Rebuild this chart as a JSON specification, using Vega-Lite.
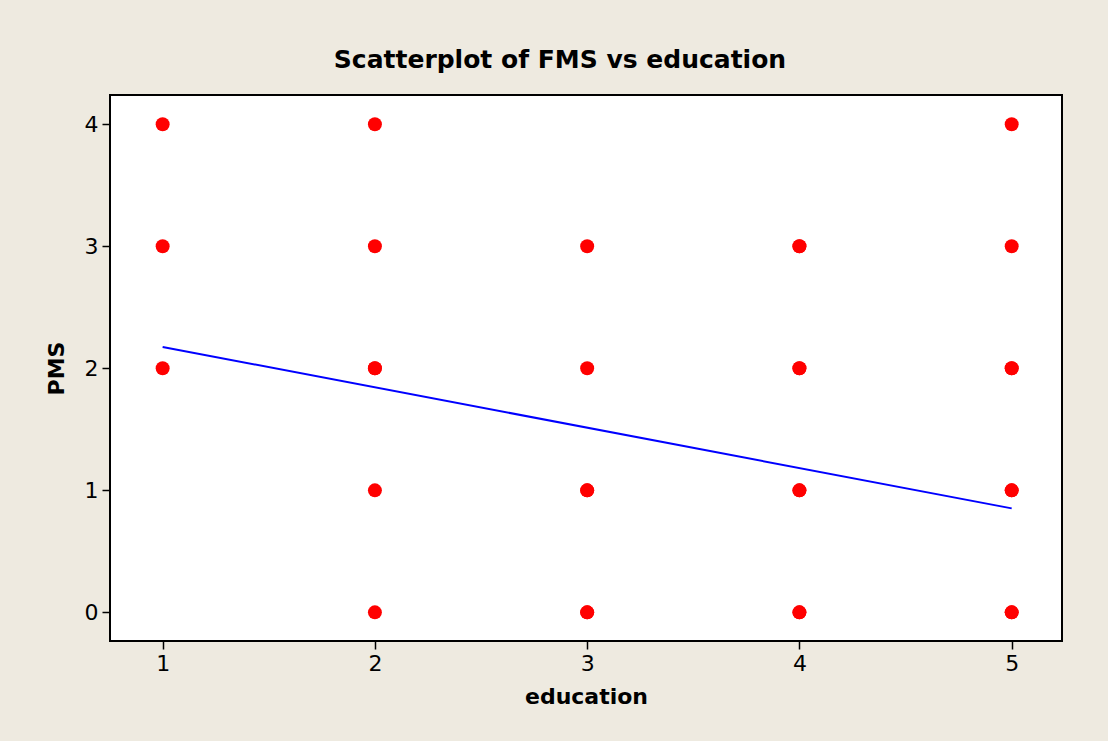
{
  "$schema": "https://vega.github.io/schema/vega-lite/v6.json",
  "autosize": "none",
  "width": 952,
  "height": 546,
  "padding": {"left": 110, "top": 95, "right": 46, "bottom": 100},
  "background": "#EEEAE0",
  "title": {
    "text": "Scatterplot of FMS vs education",
    "font": "DejaVu Sans",
    "fontSize": 25,
    "fontWeight": "bold",
    "color": "#000000",
    "anchor": "middle",
    "dx": -26,
    "offset": 22
  },
  "config": {
    "view": {"fill": "#FFFFFF", "stroke": "#000000", "strokeWidth": 2},
    "axis": {
      "domain": false,
      "grid": false,
      "ticks": true,
      "tickColor": "#000000",
      "tickSize": 8,
      "tickWidth": 1.5,
      "format": "d",
      "labelFont": "DejaVu Sans",
      "labelFontSize": 22,
      "labelColor": "#000000",
      "labelPadding": 4,
      "titleFont": "DejaVu Sans",
      "titleFontSize": 22,
      "titleFontWeight": "bold",
      "titleColor": "#000000"
    }
  },
  "datasets": {
    "obs": [
      {"education": 1, "PMS": 4},
      {"education": 1, "PMS": 3},
      {"education": 1, "PMS": 2},
      {"education": 2, "PMS": 4},
      {"education": 2, "PMS": 3},
      {"education": 2, "PMS": 2},
      {"education": 2, "PMS": 2},
      {"education": 2, "PMS": 1},
      {"education": 2, "PMS": 0},
      {"education": 3, "PMS": 3},
      {"education": 3, "PMS": 2},
      {"education": 3, "PMS": 1},
      {"education": 3, "PMS": 1},
      {"education": 3, "PMS": 0},
      {"education": 3, "PMS": 0},
      {"education": 4, "PMS": 3},
      {"education": 4, "PMS": 3},
      {"education": 4, "PMS": 2},
      {"education": 4, "PMS": 2},
      {"education": 4, "PMS": 1},
      {"education": 4, "PMS": 1},
      {"education": 4, "PMS": 0},
      {"education": 4, "PMS": 0},
      {"education": 5, "PMS": 4},
      {"education": 5, "PMS": 3},
      {"education": 5, "PMS": 2},
      {"education": 5, "PMS": 2},
      {"education": 5, "PMS": 1},
      {"education": 5, "PMS": 1},
      {"education": 5, "PMS": 0},
      {"education": 5, "PMS": 0}
    ],
    "fit": [
      {"education": 1, "PMS": 2.175},
      {"education": 5, "PMS": 0.852}
    ]
  },
  "layer": [
    {
      "data": {"name": "obs"},
      "mark": {"type": "circle", "color": "#FF0000", "opacity": 1, "size": 195},
      "encoding": {
        "x": {
          "field": "education",
          "type": "quantitative",
          "scale": {"domain": [0.752, 5.237], "nice": false, "zero": false},
          "axis": {"values": [1, 2, 3, 4, 5], "title": "education", "titlePadding": 12}
        },
        "y": {
          "field": "PMS",
          "type": "quantitative",
          "scale": {"domain": [-0.235, 4.24], "nice": false, "zero": false},
          "axis": {"values": [0, 1, 2, 3, 4], "title": "PMS", "titlePadding": 16}
        }
      }
    },
    {
      "data": {"name": "fit"},
      "mark": {"type": "line", "color": "#0000FF", "strokeWidth": 2},
      "encoding": {
        "x": {"field": "education", "type": "quantitative"},
        "y": {"field": "PMS", "type": "quantitative"}
      }
    }
  ]
}
